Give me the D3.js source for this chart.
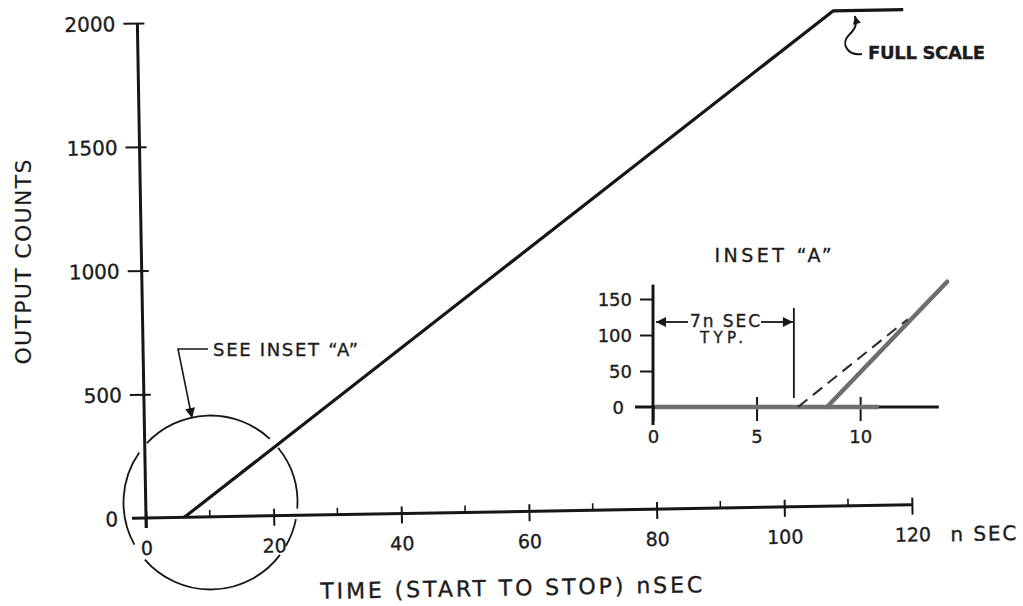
<!DOCTYPE html>
<html><head><meta charset="utf-8">
<script src="https://cdn.jsdelivr.net/npm/d3@7"></script>
<style>
html,body{margin:0;padding:0;background:#fff;}
svg{display:block;}
text{font-family:"DejaVu Sans",sans-serif;fill:#1c1c1c;stroke:#1c1c1c;stroke-width:0.35px;}
</style></head><body>
<svg id="c" width="1023" height="606"></svg>
<script>
// ---- data ----
const mainTime = [6, 109, 120];
const mainCounts = [0, 2000, 2000];
const xTickValues = [0, 20, 40, 60, 80, 100, 120];
const xMinorValues = [10, 30, 50, 70, 90, 110];
const yTickValues = [0, 500, 1000, 1500, 2000];
const insetBaseTime = [0.1, 10.9];
const insetBaseCounts = [0, 0];
const insetRiseTime = [8.4, 14.2];
const insetRiseCounts = [0, 174];
const insetDashTime = [7, 12.3];
const insetDashCounts = [0, 122];
const insetXTickValues = [0, 5, 10];
const insetYTickValues = [0, 50, 100, 150];
const typDelayMark = 6.8;

const ink = "#161616";
const svg = d3.select("#c");

const defs = svg.append("defs");
function marker(id, w, h) {
  defs.append("marker").attr("id", id).attr("viewBox", "0 0 10 10")
    .attr("refX", 10).attr("refY", 5).attr("markerUnits", "userSpaceOnUse")
    .attr("markerWidth", w).attr("markerHeight", h).attr("orient", "auto")
    .append("path").attr("d", "M0,0 L10,5 L0,10 Z").attr("fill", ink);
}
marker("ah", 14, 10);
marker("ahs", 11, 8);

// ---- main chart ----
const x = d3.scaleLinear().domain([0, 120]).range([0, 766]);
const y = d3.scaleLinear().domain([0, 2000]).range([0, -495]);
const g = svg.append("g").attr("transform", "translate(146,518) rotate(-1)");

// axis lines
g.append("line").attr("x1", -14).attr("x2", x(120)).attr("y1", 0).attr("y2", 0)
  .attr("stroke", ink).attr("stroke-width", 3);
g.append("line").attr("x1", 0).attr("x2", 0).attr("y1", 10).attr("y2", y(2000))
  .attr("stroke", ink).attr("stroke-width", 3);

// y ticks
const yAx = g.append("g").call(d3.axisLeft(y).tickValues(yTickValues).tickSize(14).tickPadding(8).tickFormat(d3.format("d")));
yAx.attr("font-size", null).attr("font-family", null);
yAx.select(".domain").remove();
yAx.selectAll(".tick line").attr("x1", 7).attr("stroke", ink).attr("stroke-width", 2);
yAx.selectAll(".tick").filter(d => d === 0).select("line").remove();
yAx.selectAll(".tick text").attr("font-size", 20).attr("dy", "0.36em")
  .attr("dx", d => d === 0 ? -6 : 0);

// x ticks
const xAx = g.append("g").call(d3.axisBottom(x).tickValues(xTickValues).tickSize(10).tickPadding(0));
xAx.attr("font-size", null).attr("font-family", null);
xAx.select(".domain").remove();
xAx.selectAll(".tick line").attr("y1", -7).attr("stroke", ink).attr("stroke-width", 2);
xAx.selectAll(".tick text").attr("font-size", 19).attr("y", 30).attr("dy", "0.36em");

g.selectAll(".minor").data(xMinorValues).join("line").attr("class", "minor")
  .attr("x1", d => x(d)).attr("x2", d => x(d)).attr("y1", 0).attr("y2", -7)
  .attr("stroke", ink).attr("stroke-width", 1.6);

g.append("text").attr("x", x(120) + 38).attr("y", 30).attr("dy", "0.36em")
  .attr("font-size", 20).attr("textLength", 66).text("n SEC");

// data line
const line = d3.line().x(d => x(d[0])).y(d => y(d[1]));
g.append("path").datum(d3.zip(mainTime, mainCounts)).attr("d", line)
  .attr("fill", "none").attr("stroke", ink).attr("stroke-width", 3.2).attr("stroke-linejoin", "round");

// x title
g.append("text").attr("x", 364).attr("y", 76).attr("dy", "0.36em").attr("text-anchor", "middle")
  .attr("font-size", 22).attr("textLength", 382).attr("lengthAdjust", "spacing")
  .text("TIME (START TO STOP) nSEC");

// y title
svg.append("text").attr("transform", "translate(23,262) rotate(-90)").attr("dy", "0.36em")
  .attr("text-anchor", "middle").attr("font-size", 22).attr("textLength", 205)
  .style("stroke-width", "0.15px").text("OUTPUT COUNTS");

// full scale annotation
svg.append("path").attr("d", "M862,54 C848,56 840,44 849,35 C856,28 857,24 855,16")
  .attr("fill", "none").attr("stroke", ink).attr("stroke-width", 2).attr("marker-end", "url(#ahs)");
svg.append("text").attr("x", 868).attr("y", 53).attr("dy", "0.36em").attr("font-size", 18)
  .attr("font-weight", "bold").attr("textLength", 117).text("FULL SCALE");

// see inset circle
const cx = 210.5, cy = 502.5, r = 87;
const segs = [[-47, 43], [51, 94], [101, 120], [127, 229], [241, 305]];
segs.forEach(s => {
  const p = d3.path();
  const a0 = (s[0] - 90) * Math.PI / 180, a1 = (s[1] - 90) * Math.PI / 180;
  p.moveTo(cx + r * Math.cos(a0), cy + r * Math.sin(a0));
  p.arc(cx, cy, r, a0, a1, false);
  svg.append("path").attr("d", p.toString()).attr("fill", "none").attr("stroke", ink).attr("stroke-width", 1.8);
});
svg.append("path").attr("d", "M208,349 L178,349 L192,418").attr("fill", "none")
  .attr("stroke", ink).attr("stroke-width", 1.6).attr("marker-end", "url(#ah)");
svg.append("text").attr("x", 213).attr("y", 350).attr("dy", "0.36em").attr("font-size", 18)
  .attr("textLength", 145).text("SEE INSET \u201CA\u201D");

// ---- inset ----
const xi = d3.scaleLinear().domain([0, 14]).range([0, 290]);
const yi = d3.scaleLinear().domain([0, 150]).range([0, -108]);
const gi = svg.append("g").attr("transform", "translate(653,407)");

gi.append("line").attr("x1", -18).attr("x2", xi(13.8)).attr("y1", 0).attr("y2", 0)
  .attr("stroke", ink).attr("stroke-width", 3);
gi.append("line").attr("x1", 0).attr("x2", 0).attr("y1", 18).attr("y2", yi(170))
  .attr("stroke", ink).attr("stroke-width", 3);

const yiAx = gi.append("g").call(d3.axisLeft(yi).tickValues(insetYTickValues).tickSize(13).tickPadding(8));
yiAx.attr("font-size", null).attr("font-family", null);
yiAx.select(".domain").remove();
yiAx.selectAll(".tick line").attr("stroke", ink).attr("stroke-width", 2);
yiAx.selectAll(".tick").filter(d => d === 0).select("line").remove();
yiAx.selectAll(".tick text").attr("font-size", 18).attr("dy", "0.36em")
  .attr("dx", d => d === 0 ? -8 : 0);

const xiAx = gi.append("g").call(d3.axisBottom(xi).tickValues(insetXTickValues).tickSize(14).tickPadding(0));
xiAx.attr("font-size", null).attr("font-family", null);
xiAx.select(".domain").remove();
xiAx.selectAll(".tick line").attr("y1", d => d === 0 ? 0 : -10).attr("stroke", ink).attr("stroke-width", 2);
xiAx.selectAll(".tick text").attr("font-size", 18).attr("y", 30).attr("dy", "0.36em");

const li = d3.line().x(d => xi(d[0])).y(d => yi(d[1]));
gi.append("path").datum(d3.zip(insetBaseTime, insetBaseCounts)).attr("d", li)
  .attr("stroke", "#6e6e6e").attr("stroke-width", 4.5).attr("fill", "none");
gi.append("path").datum(d3.zip(insetRiseTime, insetRiseCounts)).attr("d", li)
  .attr("stroke", "#6e6e6e").attr("stroke-width", 4.5).attr("fill", "none").attr("stroke-linecap", "round");
gi.append("path").datum(d3.zip(insetDashTime, insetDashCounts)).attr("d", li)
  .attr("stroke", "#2a2a2a").attr("stroke-width", 2).attr("fill", "none").attr("stroke-dasharray", "12,7");

// 7 ns dimension
gi.append("line").attr("x1", xi(typDelayMark)).attr("x2", xi(typDelayMark)).attr("y1", yi(12.5)).attr("y2", yi(137.5))
  .attr("stroke", ink).attr("stroke-width", 1.8);
gi.append("line").attr("x1", 35).attr("x2", 3).attr("y1", -85).attr("y2", -85)
  .attr("stroke", ink).attr("stroke-width", 1.8).attr("marker-end", "url(#ah)");
gi.append("line").attr("x1", 108).attr("x2", xi(typDelayMark) - 1).attr("y1", -85).attr("y2", -85)
  .attr("stroke", ink).attr("stroke-width", 1.8).attr("marker-end", "url(#ah)");
gi.append("text").attr("x", 37).attr("y", -86).attr("dy", "0.36em").attr("font-size", 17)
  .attr("textLength", 70).text("7n SEC");
gi.append("text").attr("x", 47).attr("y", -69).attr("dy", "0.36em").attr("font-size", 15)
  .attr("textLength", 43).text("TYP.");

svg.append("text").attr("x", 773).attr("y", 255).attr("dy", "0.36em").attr("text-anchor", "middle")
  .attr("font-size", 19).attr("textLength", 117).text("INSET \u201CA\u201D");
</script>
</body></html>
